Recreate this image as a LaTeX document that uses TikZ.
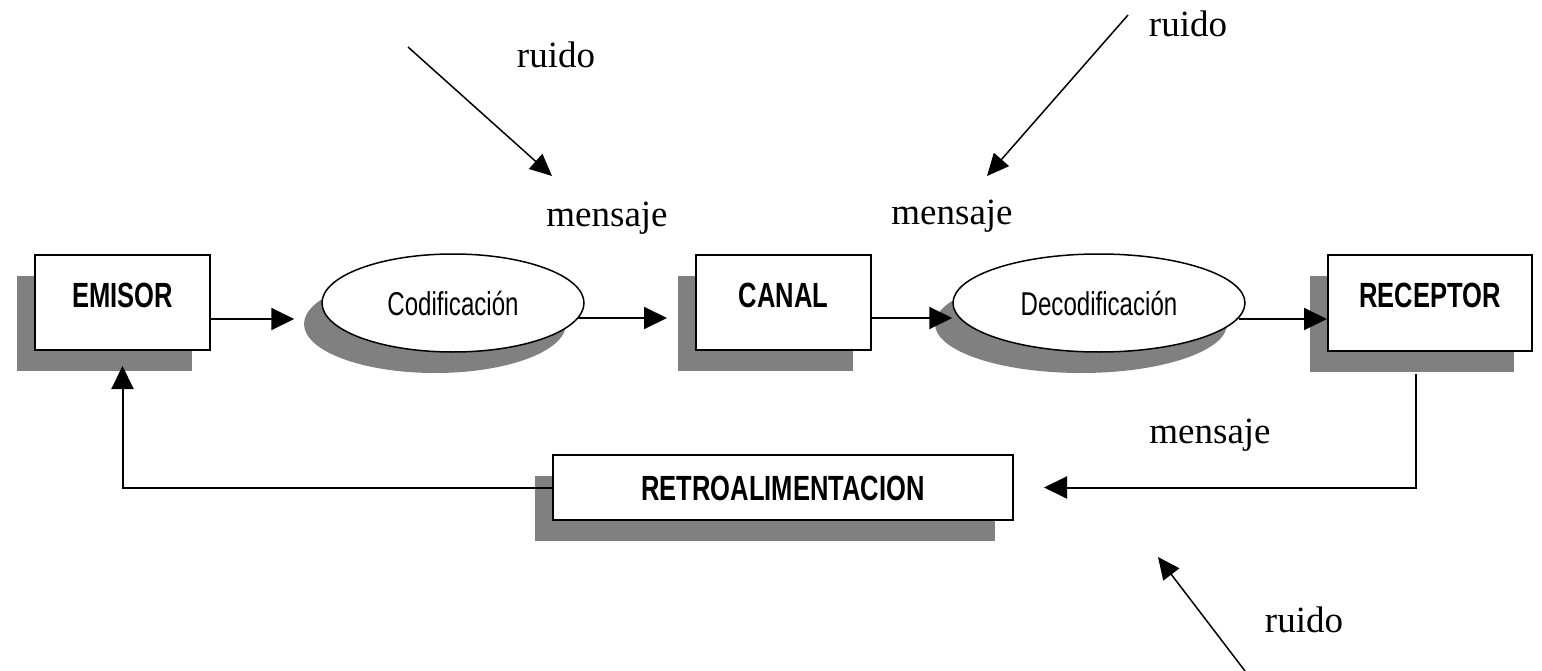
\documentclass[tikz,border=0pt]{standalone}
\usepackage{fontspec}
\usetikzlibrary{arrows.meta,shapes.geometric,shadows}
\newfontfamily\boxfont[FakeStretch=0.73]{Liberation Sans}
\newfontfamily\labfont{Liberation Serif}
\definecolor{shadowgray}{HTML}{808080}
\begin{document}
\begin{tikzpicture}[x=1pt,y=-1pt,
  shd/.style={drop shadow={shadow xshift=-18pt,shadow yshift=-21pt,fill=shadowgray,opacity=1}},
  blk/.style={draw,line width=2pt,fill=white,rectangle,inner sep=0pt,shd,
    font=\boxfont\bfseries\fontsize{35}{40}\selectfont,text height=25pt},
  ell/.style={draw,line width=1.5pt,fill=white,ellipse,inner sep=0pt,shd,
    font=\boxfont\fontsize{33}{38}\selectfont,text height=24pt,text depth=0pt},
  lab/.style={font=\labfont\fontsize{37}{40}\selectfont,anchor=base,inner sep=0pt},
  arr/.style={line width=2pt,-{Triangle[length=23pt,width=22pt]}},
  narr/.style={line width=1.5pt,-{Triangle[length=22pt,width=20pt]}}]
\useasboundingbox[fill=white] (0,0) rectangle (1542,671);

% main nodes
\node[blk,minimum width=175pt,minimum height=95pt,text depth=16pt] (emisor) at (122.5,302.5) {EMISOR};
\node[ell,minimum width=262pt,minimum height=98pt] (cod) at (453,303) {Codificación};
\node[blk,minimum width=175pt,minimum height=95pt,text depth=16pt] (canal) at (783.5,302.5) {CANAL};
\node[ell,minimum width=292pt,minimum height=98pt] (decod) at (1099,303) {Decodificación};
\node[blk,minimum width=204pt,minimum height=96pt,text depth=16pt] (receptor) at (1430,303) {RECEPTOR};
\node[blk,minimum width=460pt,minimum height=65pt,text depth=0pt] (retro) at (783,487.5) {RETROALIMENTACION};

% connectors
\path ([yshift=-16.5pt]emisor.east) coordinate (c1)
      ([xshift=-7pt,yshift=-15pt]cod.east) coordinate (c2)
      ([yshift=-15.5pt]canal.east) coordinate (c3)
      ([xshift=-7pt,yshift=-16pt]decod.east) coordinate (c4)
      ([xshift=-14pt,yshift=-22pt]receptor.south) coordinate (c5);
\draw[arr,shorten >=27pt] (c1) -- (c1 -| cod.west);
\draw[arr,shorten >=28pt] (c2) -- (c2 -| canal.west);
\draw[arr] (c3) -- (c3 -| decod.west);
\draw[arr] (c4) -- (c4 -| receptor.west);
\draw[arr,shorten >=30pt] (c5) |- (retro.east);
\draw[arr,shorten >=15pt] (retro.west) -| (emisor.south);

% noise arrows
\coordinate (n1a) at (408,47);   \coordinate (n1b) at (552,176);
\coordinate (n2a) at (1128,15);  \coordinate (n2b) at (987,176);
\coordinate (n3a) at (1245,671); \coordinate (n3b) at (1158,557);
\draw[narr] (n1a) -- (n1b);
\draw[narr] (n2a) -- (n2b);
\draw[narr] (n3a) -- (n3b);

% labels
\node[lab] (r1) at (556,68) {ruido};
\node[lab] (m1) at (607,226) {mensaje};
\node[lab] (r2) at (1188,37) {ruido};
\node[lab] (m2) at (952,225) {mensaje};
\node[lab] (r3) at (1304,632) {ruido};
\node[lab] (m3) at (1210,443) {mensaje};
\end{tikzpicture}
\end{document}
